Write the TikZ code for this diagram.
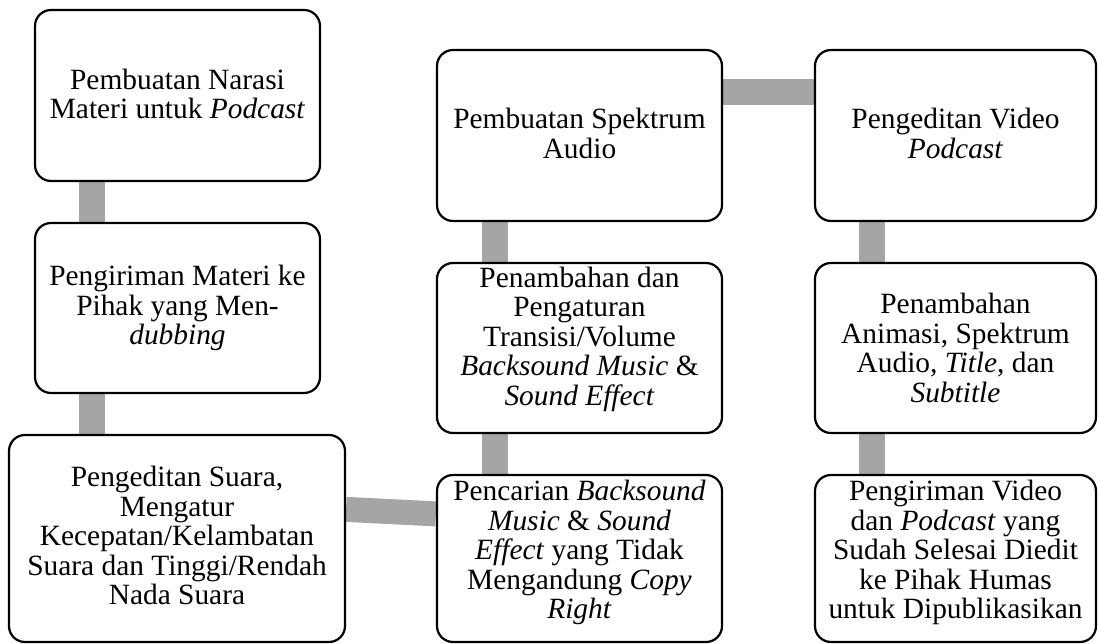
\documentclass[tikz,border=0pt]{standalone}
\usepackage{fontspec}
\setmainfont{Liberation Serif}
\usetikzlibrary{calc,backgrounds}
\definecolor{linkgray}{HTML}{A5A5A5}
\begin{document}
\begin{tikzpicture}[x=1pt,y=-1pt,
  stepbox/.style={draw=black, line width=2.2pt, rounded corners=16pt, fill=white, inner sep=0pt},
  boxtext/.style={align=center, inner sep=0pt, font=\fontsize{29.4}{29.5}\selectfont},
  link/.style={draw=linkgray, line width=26pt, line cap=butt},
]
\useasboundingbox (0,0) rectangle (1098,644);

% process boxes
\node[stepbox, minimum width=285pt, minimum height=171pt] (b1) at (177.5,95.5) {};
\node[stepbox, minimum width=285pt, minimum height=170pt] (b2) at (177.5,308) {};
\node[stepbox, minimum width=336pt, minimum height=207pt] (b3) at (177,538.5) {};
\node[stepbox, minimum width=285pt, minimum height=167pt] (b4) at (579.5,558.5) {};
\node[stepbox, minimum width=285pt, minimum height=170pt] (b5) at (579.5,348) {};
\node[stepbox, minimum width=285pt, minimum height=171pt] (b6) at (579.5,135.5) {};
\node[stepbox, minimum width=281pt, minimum height=171pt] (b7) at (955.5,135.5) {};
\node[stepbox, minimum width=281pt, minimum height=170pt] (b8) at (955.5,348) {};
\node[stepbox, minimum width=281pt, minimum height=167pt] (b9) at (955.5,558.5) {};

% box labels
\node[boxtext, yshift=1.5pt] (t1) at (b1.center) {Pembuatan Narasi\\Materi untuk \textit{Podcast}};
\node[boxtext] (t2) at (b2.center) {Pengiriman Materi ke\\Pihak yang Men-\\\textit{dubbing}};
\node[boxtext, yshift=3pt] (t3) at (b3.center) {Pengeditan Suara,\\Mengatur\\Kecepatan/Kelambatan\\Suara dan Tinggi/Rendah\\Nada Suara};
\node[boxtext, yshift=6pt] (t4) at (b4.center) {Pencarian \textit{Backsound}\\\textit{Music} \& \textit{Sound}\\\textit{Effect} yang Tidak\\Mengandung \textit{Copy}\\\textit{Right}};
\node[boxtext, yshift=9pt] (t5) at (b5.center) {Penambahan dan\\Pengaturan\\Transisi/Volume\\\textit{Backsound Music} \&\\\textit{Sound Effect}};
\node[boxtext, yshift=2pt] (t6) at (b6.center) {Pembuatan Spektrum\\Audio};
\node[boxtext, yshift=2pt] (t7) at (b7.center) {Pengeditan Video\\\textit{Podcast}};
\node[boxtext] (t8) at (b8.center) {Penambahan\\Animasi, Spektrum\\Audio, \textit{Title}, dan\\\textit{Subtitle}};
\node[boxtext, yshift=6pt] (t9) at (b9.center) {Pengiriman Video\\dan \textit{Podcast} yang\\Sudah Selesai Diedit\\ke Pihak Humas\\untuk Dipublikasikan};

% connecting bars behind the boxes
\begin{scope}[on background layer]
  \path ($(b2.south west)+(58,0)$) coordinate (j23);
  \draw[link] ($(b1.south west)+(58,0)$) -- ($(b2.north west)+(58,0)$);
  \draw[link] (j23) -- (j23 |- b3.north);
  \draw[link, line width=25pt] ($(b3.north east)+(0,75.5)$) -- ($(b4.north west)+(0,40)$);
  \draw[link] ($(b4.north west)+(59,0)$) -- ($(b5.south west)+(59,0)$);
  \draw[link] ($(b5.north west)+(59,0)$) -- ($(b6.south west)+(59,0)$);
  \draw[link] ($(b6.north east)+(0,43)$) -- ($(b7.north west)+(0,43)$);
  \draw[link] ($(b7.south west)+(58,0)$) -- ($(b8.north west)+(58,0)$);
  \draw[link] ($(b8.south west)+(58,0)$) -- ($(b9.north west)+(58,0)$);
\end{scope}
\end{tikzpicture}
\end{document}
